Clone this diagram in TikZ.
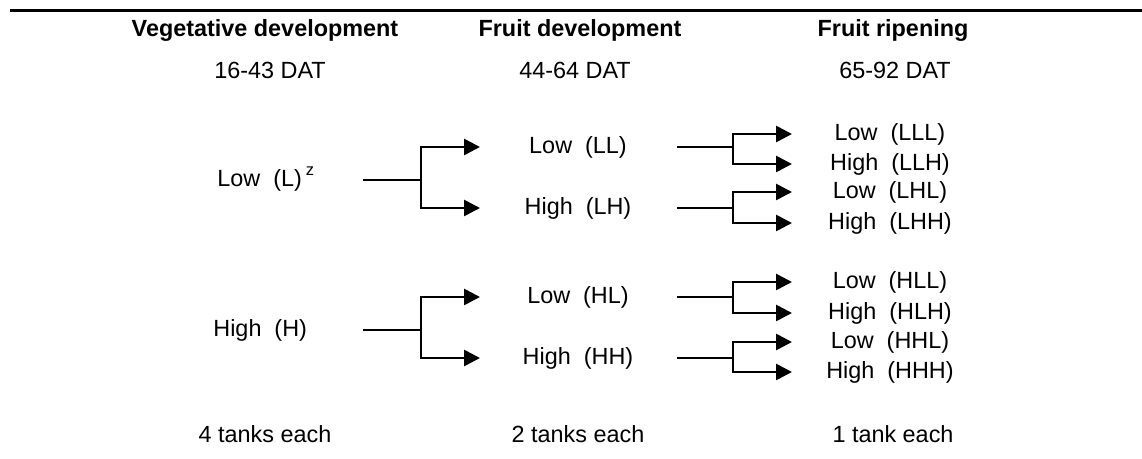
\documentclass[tikz,border=0pt]{standalone}
\usepackage{fontspec}
\setmainfont{Liberation Sans}
\usetikzlibrary{arrows.meta}
\begin{document}
\begin{tikzpicture}[x=0.5pt,y=-0.5pt,
  lbl/.style={font=\fontsize{11.7}{14}\selectfont, inner sep=0pt},
  head/.style={font=\fontsize{11.7}{14}\selectfont\bfseries, inner sep=0pt},
  conn/.style={line width=1.35pt},
  arr/.style={conn,-{Triangle[length=8pt,width=8pt]}}]
\useasboundingbox (0,0) rectangle (1142,459);
\draw[line width=1.5pt] (10,11) -- (1142,11);
% headings
\node[head,anchor=base] (h1) at (265,37) {Vegetative development};
\node[head,anchor=base] (h2) at (580,37) {Fruit development};
\node[head,anchor=base] (h3) at (893,37) {Fruit ripening};
\node[lbl,anchor=base] (d1) at (270,79) {16-43 DAT};
\node[lbl,anchor=base] (d2) at (575,79) {44-64 DAT};
\node[lbl,anchor=base] (d3) at (895,79) {65-92 DAT};
% column 1
\node[lbl,anchor=west] (L) at (217,180) {Low\ \ (L)\,\smash{\raisebox{1pt}{\textsuperscript{z}}}};
\node[lbl,anchor=west] (H) at (213,330) {High\ \ (H)};
% column 2
\node[lbl] (LL) at (578,147) {Low\ \ (LL)};
\node[lbl] (LH) at (578,208) {High\ \ (LH)};
\node[lbl] (HL) at (578,297) {Low\ \ (HL)};
\node[lbl] (HH) at (578,358) {High\ \ (HH)};
% column 3
\node[lbl] (LLL) at (890,134) {Low\ \ (LLL)};
\node[lbl] (LLH) at (890,164) {High\ \ (LLH)};
\node[lbl] (LHL) at (890,192) {Low\ \ (LHL)};
\node[lbl] (LHH) at (890,223) {High\ \ (LHH)};
\node[lbl] (HLL) at (890,282) {Low\ \ (HLL)};
\node[lbl] (HLH) at (890,313) {High\ \ (HLH)};
\node[lbl] (HHL) at (890,342) {Low\ \ (HHL)};
\node[lbl] (HHH) at (890,372) {High\ \ (HHH)};
% bottom
\node[lbl,anchor=base] (n1) at (265,443) {4 tanks each};
\node[lbl,anchor=base] (n2) at (578,443) {2 tanks each};
\node[lbl,anchor=base] (n3) at (893,443) {1 tank each};
% connector columns
\coordinate (s1) at (363,0); \coordinate (b1) at (421,0); \coordinate (t1) at (480,0);
\coordinate (s2) at (677,0); \coordinate (b2) at (733,0); \coordinate (t2) at (792,0);
% column 1 -> 2
\draw[conn] (L -| s1) -- (L -| b1);
\draw[arr] (L -| b1) |- (LL -| t1);
\draw[arr] (L -| b1) |- (LH -| t1);
\draw[conn] (H -| s1) -- (H -| b1);
\draw[arr] (H -| b1) |- (HL -| t1);
\draw[arr] (H -| b1) |- (HH -| t1);
% column 2 -> 3
\draw[conn] (LL -| s2) -- (LL -| b2);
\draw[arr] (LL -| b2) |- (LLL -| t2);
\draw[arr] (LL -| b2) |- (LLH -| t2);
\draw[conn] (LH -| s2) -- (LH -| b2);
\draw[arr] (LH -| b2) |- (LHL -| t2);
\draw[arr] (LH -| b2) |- (LHH -| t2);
\draw[conn] (HL -| s2) -- (HL -| b2);
\draw[arr] (HL -| b2) |- (HLL -| t2);
\draw[arr] (HL -| b2) |- (HLH -| t2);
\draw[conn] (HH -| s2) -- (HH -| b2);
\draw[arr] (HH -| b2) |- (HHL -| t2);
\draw[arr] (HH -| b2) |- (HHH -| t2);
\end{tikzpicture}
\end{document}
